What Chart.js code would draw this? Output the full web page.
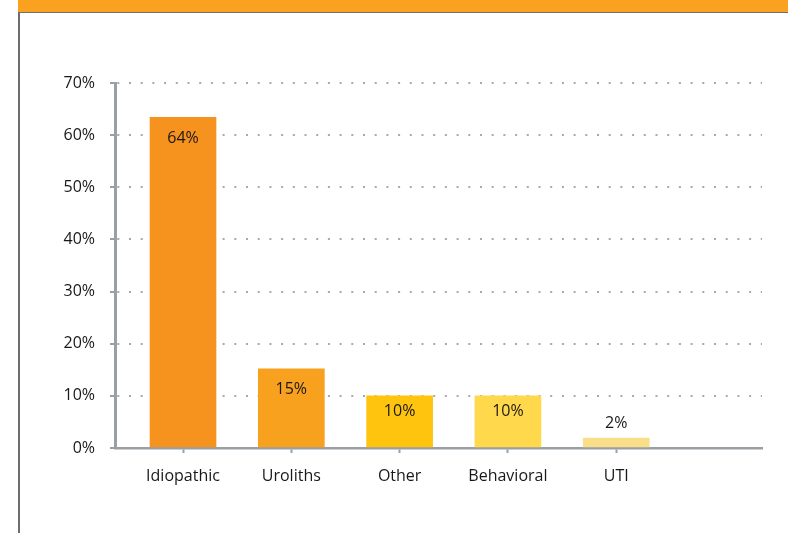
<!DOCTYPE html>
<html>
<head>
<meta charset="utf-8">
<script src="https://cdn.jsdelivr.net/npm/chart.js@4.4.0/dist/chart.umd.min.js"></script>
<style>
    html, body { margin: 0; padding: 0; background: #fff; }
    #wrap { position: relative; width: 788px; height: 533px; overflow: hidden; }
    #band { position: absolute; left: 18px; top: 0; width: 770px; height: 12px; background: #faa21f; border-bottom: 1.5px solid #6d6e71; }
    #side { position: absolute; left: 18px; top: 12px; width: 1.5px; height: 521px; background: #6d6e71; }
    #chart { position: absolute; left: 0; top: 0; }
</style>
</head>
<body>
<div id="wrap">
    <div id="band"></div>
    <div id="side"></div>
    <canvas id="chart" width="788" height="533"></canvas>
</div>
<script>
const categories = ['Idiopathic', 'Uroliths', 'Other', 'Behavioral', 'UTI'];
const percentValues = [63.4, 15.2, 10.0, 10.0, 1.9];
const valueLabels = ['64%', '15%', '10%', '10%', '2%'];
const barColors = ['#f6921e', '#f8a11f', '#fec40e', '#ffd84c', '#fadf8a'];
const yTicks = [0, 10, 20, 30, 40, 50, 60, 70];

const AXIS_GREY = '#9a9fa3';
const TEXT_COLOR = '#1a1718';
const FONT = { family: "'Open Sans', sans-serif", size: 16 };

// labels sit inside the bar near its top, or just above a short bar
const valueLabelPlugin = {
    id: 'valueLabels',
    afterDatasetsDraw(chart) {
        const { ctx } = chart;
        const meta = chart.getDatasetMeta(0);
        ctx.save();
        ctx.font = `${FONT.size}px ${FONT.family}`;
        ctx.fillStyle = TEXT_COLOR;
        ctx.textAlign = 'center';
        ctx.textBaseline = 'middle';
        meta.data.forEach((bar, i) => {
            const barHeight = bar.base - bar.y;
            if (percentValues[i] > 5) {
                ctx.fillText(valueLabels[i], bar.x, bar.y + Math.min(21, barHeight * 0.3));
            } else {
                ctx.fillText(valueLabels[i], bar.x, bar.y - 15);
            }
        });
        ctx.restore();
    }
};

new Chart(document.getElementById('chart').getContext('2d'), {
    type: 'bar',
    data: {
        datasets: [{
            data: percentValues.map((v, i) => ({ x: i, y: v })),
            backgroundColor: barColors,
            borderWidth: 0,
            barThickness: 66
        }]
    },
    options: {
        responsive: false,
        animation: false,
        events: [],
        layout: { padding: { top: 83, right: 26, left: 0, bottom: 0 } },
        plugins: {
            legend: { display: false },
            tooltip: { enabled: false }
        },
        scales: {
            x: {
                type: 'linear',
                min: -0.628,
                max: 5.346,
                offset: false,
                afterBuildTicks(scale) {
                    scale.ticks = categories.map((c, i) => ({ value: i }));
                },
                afterFit(scale) { scale.height = 533 - 448; },
                ticks: {
                    callback: (v) => categories[v] ?? '',
                    font: FONT,
                    color: TEXT_COLOR,
                    padding: 14,
                    maxRotation: 0,
                    autoSkip: false
                },
                grid: {
                    display: true,
                    offset: false,
                    drawOnChartArea: false,
                    drawTicks: true,
                    tickLength: 5,
                    tickColor: AXIS_GREY,
                    tickWidth: 2
                },
                border: { display: true, color: AXIS_GREY, width: 2.5 }
            },
            y: {
                min: 0,
                max: 70,
                afterBuildTicks(scale) {
                    scale.ticks = yTicks.map(v => ({ value: v }));
                },
                afterFit(scale) { scale.width = 115; },
                ticks: {
                    callback: (v) => v + '%',
                    font: FONT,
                    color: TEXT_COLOR,
                    padding: 15
                },
                grid: {
                    color: (ctx) => ctx.tick && ctx.tick.value === 0 ? 'rgba(0,0,0,0)' : '#a7a9ac',
                    lineWidth: 2,
                    drawTicks: true,
                    tickLength: 5,
                    tickColor: AXIS_GREY,
                    tickWidth: 2,
                    tickBorderDash: []
                },
                border: { display: true, color: AXIS_GREY, width: 3, dash: [2, 9.7], dashOffset: -0.3 }
            }
        }
    },
    plugins: [valueLabelPlugin]
});
</script>
</body>
</html>
